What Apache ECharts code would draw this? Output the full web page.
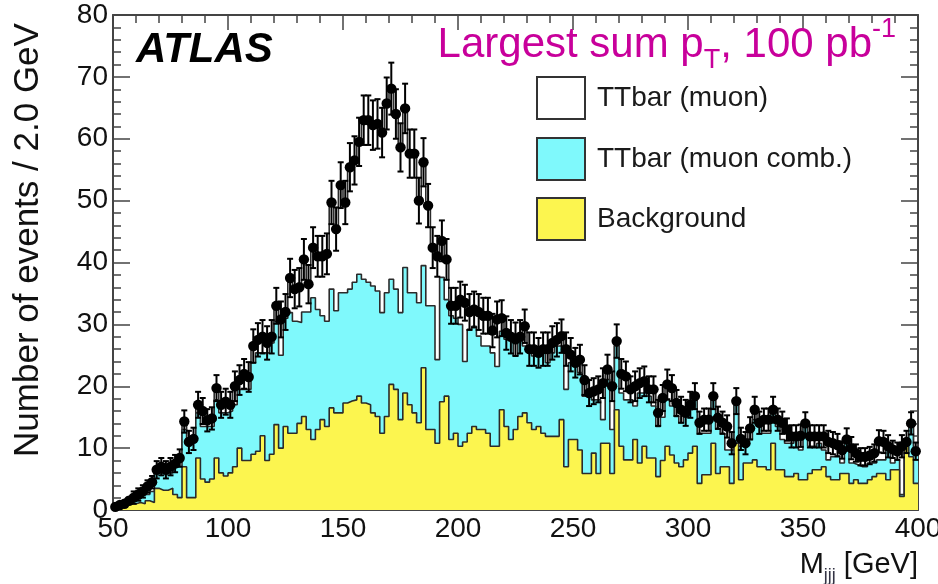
<!DOCTYPE html>
<html>
<head>
<meta charset="utf-8">
<title>M_jjj largest sum pT</title>
<script src="https://cdn.jsdelivr.net/npm/echarts@6/dist/echarts.min.js"></script>
<style>
html, body { margin: 0; padding: 0; background: #fff; }
#chart { width: 938px; height: 584px; }
</style>
</head>
<body>
<div id="chart"></div>
<script>
// 175 bins of 2 GeV, from 50 to 400 GeV
var binStart = 50
var binWidth = 2

// top of the yellow stack (Background)
var background = [
  0.2, 0.5, 0.8, 1, 1, 1.2, 1, 1.5, 1.2, 3.5,
  3.2, 3.2, 3.5, 2.5, 2, 7, 2, 2, 8.4, 5,
  4.5, 5, 8.4, 6, 5.5, 6, 7, 10, 8, 8,
  9, 9.5, 12, 8, 9, 13.8, 10, 13.5, 12.4, 12.4,
  14, 15.1, 13, 11.4, 13, 14.6, 13.5, 16.5, 15.7, 15.7,
  17.3, 17.6, 17.8, 18.4, 17.3, 17, 15.7, 15.1, 12.4, 15.1,
  20.3, 19.5, 14.6, 18.9, 17, 15.7, 14.1, 23, 13, 13,
  10.8, 17.5, 18.4, 11.4, 12.4, 10.3, 11, 12.4, 13.5, 13,
  13, 12.4, 10.3, 10.3, 16.2, 13.5, 11.4, 13, 15.1, 15.7,
  14.1, 13, 13.5, 12.4, 11.9, 11.9, 11.9, 14.6, 7, 11.4,
  11.4, 9.7, 5.9, 5.9, 9.2, 5.9, 10.8, 10.8, 5.9, 16.2,
  10.3, 8.1, 8.1, 11.4, 7.6, 10.3, 8.4, 8.4, 5.4, 8,
  10.3, 8.9, 7.6, 7, 8.1, 9.2, 10.3, 4.3, 5.7, 5.7,
  10.8, 5.9, 7, 7, 4.3, 10.8, 4.9, 7.6, 7.6, 8.1,
  7, 7, 6.5, 10.8, 6.5, 6.5, 5.4, 5.4, 5.9, 4.9,
  4.9, 5.9, 6.5, 6.5, 7, 5.4, 4.9, 4.9, 5.9, 5.9,
  4.3, 4.9, 4.3, 4.3, 4.9, 5.4, 5.9, 5.9, 4.9, 6.5,
  6.5, 2.2, 10.3, 8.6, 4.3
]

// top of the cyan stack (TTbar muon comb.)
var muonComb = [
  0.3, 0.5, 1, 1.5, 2, 1.8, 2.5, 2.5, 3, 6,
  6, 6, 6, 7, 7, 13, 10.8, 11, 15.7, 13.5,
  13.5, 13.5, 17.8, 15.7, 15.7, 16, 17, 19.5, 19.5, 19.5,
  23.8, 25.4, 25.4, 25.4, 27, 30.5, 25, 31, 31.9, 30.5,
  30.3, 32, 32, 34.3, 32.4, 31.4, 30.5, 35.7, 32.2, 35.1,
  35.1, 35.7, 36.8, 38.1, 37.3, 36.8, 36.2, 35.4, 31.9, 35.1,
  37.3, 35.7, 31.9, 39.2, 35.1, 35.1, 33.5, 39.5, 33, 33,
  24.3, 37.6, 34, 31.4, 31, 30, 24, 29.2, 29.7, 28.1,
  26.5, 26.5, 25.4, 23.2, 28.9, 27.6, 27.6, 24.9, 27.6, 26.5,
  26.5, 24.9, 25.4, 25.4, 23.8, 25.4, 26.5, 26.5, 19.5, 23.8,
  23.8, 22.2, 18.4, 18.4, 17.8, 17.8, 14.6, 21.1, 13, 26.5,
  18.9, 17.8, 17.8, 16.8, 18.9, 18.9, 18.4, 16.8, 13.5, 15,
  17.8, 16.8, 15.1, 14.1, 15.7, 16.2, 17.8, 12.4, 12.4, 12.4,
  17.8, 13.2, 12.4, 9.7, 9.7, 17.3, 10.3, 11.4, 11.4, 14.6,
  13.5, 12.4, 12.4, 15.7, 13.5, 11.4, 10.8, 10.8, 11.6, 9.7,
  14, 10.3, 10.3, 10.8, 9.7, 8.1, 8.6, 8.6, 7.6, 11.4,
  7.6, 7.3, 7, 7, 7.6, 7.6, 8.1, 8.1, 10.3, 7.6,
  8.1, 2.5, 10.5, 13.5, 9.2
]

// points, the white TTbar (muon) stack ends at them
var events = [
  0.5, 0.8, 1, 1.5, 2, 2.5, 3, 3.8, 4.5, 6.5,
  7, 6.5, 7, 7.5, 8.4, 14.3, 11, 11.5, 17, 16,
  14.5, 14.8, 19.7, 17, 17.5, 17, 20, 21, 22, 21.5,
  26.5, 27.5, 28, 27, 28, 33, 30.8, 32, 37.5, 35.7,
  36, 40.5, 36.5, 42.4, 41, 41, 41.4, 49.7, 45.4, 52.5,
  49.7, 55.4, 56.5, 59.5, 63, 63, 62.2, 62.4, 61, 65.7,
  68.1, 64, 58.6, 64.9, 57.6, 57.6, 50, 56.2, 49.2, 42.4,
  41, 43.5, 40.5, 33, 33, 34, 33.5, 32, 32.4, 32,
  31.4, 31.4, 29, 30.8, 31, 28.6, 28, 27.6, 28, 29.7,
  26, 26, 25.4, 26, 26, 27, 27.5, 28.1, 26, 25.1,
  23.8, 24.3, 21, 18.9, 19.2, 19.5, 20.5, 22.7, 20, 27.3,
  22, 21.6, 19.5, 20, 20.5, 20.8, 19.5, 19.5, 15.7, 18.1,
  20.3, 19.7, 17.3, 16.2, 15.7, 17, 18.4, 14.1, 14.6, 14.6,
  18.4, 14.9, 14.1, 13.5, 10.8, 17.6, 11.5, 10.8, 13.2, 16.2,
  14.1, 14.6, 14.6, 16.2, 14.6, 14.1, 13, 11.9, 11.9, 12,
  14, 11.9, 11.9, 11.9, 11.9, 11, 10.8, 10.5, 9.7, 11.4,
  10, 9.2, 8.6, 8.6, 8.8, 9.2, 11.1, 11, 10.3, 9.8,
  9.5, 10.3, 11, 14, 9.5
]

// half length of the error bars
var eventsErr = [
  0.5, 0.5, 0.5, 0.5, 1, 1, 1, 1, 1, 1.4,
  1.4, 1.4, 1.4, 1.4, 1.4, 1.8, 1.8, 1.8, 2.1, 2.1,
  1.8, 1.8, 2.1, 2.1, 2.1, 2.1, 2.4, 2.4, 2.4, 2.4,
  2.7, 2.7, 2.7, 2.7, 2.7, 2.9, 2.9, 2.9, 3.1, 3.1,
  3.1, 3.3, 3.1, 3.3, 3.3, 3.3, 3.3, 3.5, 3.5, 3.7,
  3.5, 3.9, 3.9, 3.9, 4, 4, 4, 4, 4, 4.2,
  4.2, 4, 3.9, 4, 3.9, 3.9, 3.7, 3.9, 3.5, 3.3,
  3.3, 3.3, 3.3, 2.9, 2.9, 2.9, 2.9, 2.9, 2.9, 2.9,
  2.9, 2.9, 2.7, 2.9, 2.9, 2.7, 2.7, 2.7, 2.7, 2.7,
  2.7, 2.7, 2.4, 2.7, 2.7, 2.7, 2.7, 2.7, 2.7, 2.7,
  2.4, 2.4, 2.4, 2.1, 2.1, 2.1, 2.4, 2.4, 2.4, 2.7,
  2.4, 2.4, 2.1, 2.4, 2.4, 2.4, 2.1, 2.1, 2.1, 2.1,
  2.4, 2.1, 2.1, 2.1, 2.1, 2.1, 2.1, 1.8, 1.8, 1.8,
  2.1, 1.8, 1.8, 1.8, 1.8, 2.1, 1.8, 1.8, 1.8, 2.1,
  1.8, 1.8, 1.8, 2.1, 1.8, 1.8, 1.8, 1.8, 1.8, 1.8,
  1.8, 1.8, 1.8, 1.8, 1.8, 1.8, 1.8, 1.8, 1.4, 1.8,
  1.8, 1.4, 1.4, 1.4, 1.4, 1.4, 1.8, 1.8, 1.8, 1.4,
  1.4, 1.8, 1.8, 1.8, 1.4
]

var xTicks = { min: 50, max: 400, step: 50 }
var yTicks = { min: 0, max: 80, step: 10 }

var FONT = 'Liberation Sans, Arial, Helvetica, sans-serif'
var FRAME = '#444'

// histogram outline as steps, one point per bin low edge + last edge
function steps(vals) {
  var pts = vals.map(function (v, i) {
    return [binStart + i * binWidth, v]
  })
  pts.push([binStart + vals.length * binWidth, vals[vals.length - 1]])
  return pts
}

function histo(name, vals, fill, z) {
  return {
    name: name,
    type: 'line',
    step: 'end',
    symbol: 'none',
    silent: true,
    z: z,
    data: steps(vals),
    lineStyle: { color: '#2b2b2b', width: 1.6 },
    areaStyle: { color: fill, opacity: 1, origin: 'start' }
  }
}

function xAxisDef(pos, labels) {
  return {
    type: 'value',
    position: pos,
    min: xTicks.min,
    max: xTicks.max,
    interval: xTicks.step,
    axisLine: { show: true, onZero: false, lineStyle: { color: FRAME, width: 2 } },
    axisTick: { show: true, inside: true, length: 15, lineStyle: { color: FRAME, width: 1.5 } },
    minorTick: { show: true, splitNumber: 5, length: 8, lineStyle: { color: FRAME, width: 1.5 } },
    splitLine: { show: false },
    axisLabel: { show: labels, color: '#111', fontSize: 28, fontFamily: FONT, margin: 5 }
  }
}

function yAxisDef(pos, labels) {
  return {
    type: 'value',
    position: pos,
    min: yTicks.min,
    max: yTicks.max,
    interval: yTicks.step,
    axisLine: { show: true, onZero: false, lineStyle: { color: FRAME, width: 2 } },
    axisTick: { show: true, inside: true, length: 17, lineStyle: { color: FRAME, width: 1.5 } },
    minorTick: { show: true, splitNumber: 5, length: 8, lineStyle: { color: FRAME, width: 1.5 } },
    splitLine: { show: false },
    axisLabel: { show: labels, color: '#111', fontSize: 28, fontFamily: FONT, margin: 5 }
  }
}

var legendItems = [
  { label: 'TTbar (muon)', fill: '#ffffff', y: 77 },
  { label: 'TTbar (muon comb.)', fill: '#7ff9fc', y: 138 },
  { label: 'Background', fill: '#fcf54f', y: 198 }
]

var graphics = [
  {
    type: 'text', left: 136, top: 29, z: 20,
    style: { text: 'ATLAS', font: 'italic bold 42px ' + FONT, fill: '#000' }
  },
  {
    type: 'text', x: 896, y: 16, z: 20,
    style: {
      text: '{m|Largest sum p}{s|T}{m|, 100 pb}{u|-1}',
      textAlign: 'right',
      textVerticalAlign: 'top',
      fill: '#c8009b',
      rich: {
        m: { fontSize: 42, lineHeight: 58, fontFamily: FONT, fill: '#c8009b', verticalAlign: 'middle' },
        s: { fontSize: 27, lineHeight: 27, fontFamily: FONT, fill: '#c8009b', verticalAlign: 'bottom' },
        u: { fontSize: 27, lineHeight: 27, fontFamily: FONT, fill: '#c8009b', verticalAlign: 'top' }
      }
    }
  },
  {
    type: 'text', x: 28, y: 240, rotation: Math.PI / 2, z: 20,
    style: {
      text: 'Number of events / 2.0 GeV',
      textAlign: 'center',
      textVerticalAlign: 'middle',
      font: '35px ' + FONT,
      fill: '#111'
    }
  },
  {
    type: 'text', x: 918, y: 545, z: 20,
    style: {
      text: '{m|M}{s|jjj}{m| [GeV]}',
      textAlign: 'right',
      textVerticalAlign: 'top',
      fill: '#111',
      rich: {
        m: { fontSize: 29, lineHeight: 40, fontFamily: FONT, fill: '#111', verticalAlign: 'middle' },
        s: { fontSize: 18, lineHeight: 18, fontFamily: FONT, fill: '#334', verticalAlign: 'bottom' }
      }
    }
  }
]

legendItems.forEach(function (it) {
  graphics.push({
    type: 'rect', z: 20,
    shape: { x: 537, y: it.y, width: 48, height: 42 },
    style: { fill: it.fill, stroke: '#333', lineWidth: 2 }
  })
  graphics.push({
    type: 'text', x: 597, y: it.y + 21, z: 20,
    style: { text: it.label, font: '28px ' + FONT, fill: '#1a1a1a', textVerticalAlign: 'middle' }
  })
})

var points = events.map(function (v, i) {
  return [binStart + i * binWidth + binWidth / 2, v, eventsErr[i]]
})

var chart = echarts.init(document.getElementById('chart'), null, { renderer: 'canvas' })

chart.setOption({
  animation: false,
  backgroundColor: '#fff',
  grid: { left: 113, right: 20, top: 15, bottom: 74, containLabel: false, outerBoundsMode: 'none' },
  xAxis: [xAxisDef('bottom', true), xAxisDef('top', false)],
  yAxis: [yAxisDef('left', true), yAxisDef('right', false)],
  graphic: graphics,
  series: [
    histo('TTbar (muon)', events, '#ffffff', 2),
    histo('TTbar (muon comb.)', muonComb, '#7ff9fc', 3),
    histo('Background', background, '#fcf54f', 4),
    {
      name: 'events',
      type: 'custom',
      z: 10,
      silent: true,
      data: points,
      encode: { x: 0, y: 1 },
      renderItem: function (params, api) {
        var x = api.value(0)
        var y = api.value(1)
        var e = api.value(2)
        var c = api.coord([x, y])
        var hi = api.coord([x, y + e])[1]
        var lo = api.coord([x, Math.max(y - e, 0)])[1]
        var bar = { stroke: '#000', lineWidth: 2 }
        return {
          type: 'group',
          children: [
            { type: 'line', shape: { x1: c[0], y1: hi, x2: c[0], y2: lo }, style: bar },
            { type: 'line', shape: { x1: c[0] - 3, y1: hi, x2: c[0] + 3, y2: hi }, style: bar },
            { type: 'line', shape: { x1: c[0] - 3, y1: lo, x2: c[0] + 3, y2: lo }, style: bar },
            { type: 'circle', shape: { cx: c[0], cy: c[1], r: 5.2 }, style: { fill: '#000' } }
          ]
        }
      }
    }
  ]
})
</script>
</body>
</html>
